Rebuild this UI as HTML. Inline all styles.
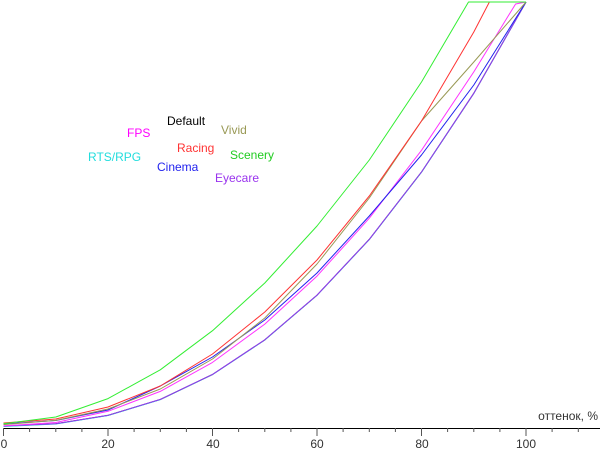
<!DOCTYPE html><html><head><style>body{margin:0;background:#fff}svg{display:block;font-family:"Liberation Sans",Arial,sans-serif;font-size:12px}</style></head><body>
<svg width="600" height="452" xmlns="http://www.w3.org/2000/svg">
<g fill="none" stroke-width="1" stroke-linejoin="round">
<polyline stroke="#000" points="3.5,426.2 55.8,423.8 108,415.4 160.3,399.5 212.5,374.5 264.8,339.9 317,295.2 369.3,239.4 421.5,172.1 473.8,93.3 526,2"/>
<polyline stroke="#22dddd" points="3.5,426.5 55.8,424 108,415.5 160.3,399.6 212.5,374.6 264.8,340 317,295.3 369.3,239.5 421.5,172.2 473.8,93.4 526,2"/>
<polyline stroke="#9933ee" points="3.5,426 55.8,423.7 108,415.3 160.3,399.4 212.5,374.4 264.8,339.8 317,295.1 369.3,239.3 421.5,172 473.8,93.2 526,2"/>
<polyline stroke="#ff33ff" points="3.5,425.9 55.8,422.5 108,411.3 160.3,391.4 212.5,362.4 264.8,324.1 317,276.1 369.3,218.2 421.5,150.3 473.8,71.9 515.6,4 526,2"/>
<polyline stroke="#2222ee" points="3.5,424 55.8,420.5 108,410 160.3,386 212.5,357 264.8,320 317,273 369.3,216 421.5,155 473.8,85 526,2"/>
<polyline stroke="#999955" points="3.5,424.6 55.8,420.4 108,409 160.3,389 212.5,359 264.8,318 317,264 369.3,198 421.5,121 473.8,62 526,2"/>
<polyline stroke="#ff3333" points="3.5,423 55.8,419 108,407 160.3,386 212.5,354 264.8,312 317,260 369.3,196 421.5,121 473.8,32 489.4,2 526,2"/>
<polyline stroke="#33ee33" points="3.5,423.7 55.8,417 108,398.6 160.3,369.8 212.5,330.7 264.8,283 317,226 369.3,160 421.5,82 468.5,2 526,2"/>
</g>
<line x1="3.5" y1="428.5" x2="600" y2="428.5" stroke="#000"/>
<g stroke="#555">
<line x1="3.5" y1="428" x2="3.5" y2="436"/><line x1="29.6" y1="428" x2="29.6" y2="432"/><line x1="55.8" y1="428" x2="55.8" y2="432"/><line x1="81.9" y1="428" x2="81.9" y2="432"/>
<line x1="108" y1="428" x2="108" y2="436"/><line x1="134.1" y1="428" x2="134.1" y2="432"/><line x1="160.3" y1="428" x2="160.3" y2="432"/><line x1="186.4" y1="428" x2="186.4" y2="432"/>
<line x1="212.5" y1="428" x2="212.5" y2="436"/><line x1="238.6" y1="428" x2="238.6" y2="432"/><line x1="264.8" y1="428" x2="264.8" y2="432"/><line x1="290.9" y1="428" x2="290.9" y2="432"/>
<line x1="317" y1="428" x2="317" y2="436"/><line x1="343.1" y1="428" x2="343.1" y2="432"/><line x1="369.3" y1="428" x2="369.3" y2="432"/><line x1="395.4" y1="428" x2="395.4" y2="432"/>
<line x1="421.5" y1="428" x2="421.5" y2="436"/><line x1="447.6" y1="428" x2="447.6" y2="432"/><line x1="473.8" y1="428" x2="473.8" y2="432"/><line x1="499.9" y1="428" x2="499.9" y2="432"/>
<line x1="526" y1="428" x2="526" y2="436"/><line x1="552.1" y1="428" x2="552.1" y2="432"/><line x1="578.3" y1="428" x2="578.3" y2="432"/>
</g>
<g fill="#333" text-anchor="middle">
<text x="4" y="448">0</text><text x="108" y="448">20</text><text x="213" y="448">40</text><text x="317" y="448">60</text><text x="422" y="448">80</text><text x="526" y="448">100</text>
</g>
<text x="598" y="420" text-anchor="end" fill="#333">оттенок, %</text>
<text x="127" y="137" fill="#ff00ff">FPS</text>
<text x="167" y="125" fill="#000">Default</text>
<text x="221" y="134" fill="#999955">Vivid</text>
<text x="177" y="152" fill="#ff3333">Racing</text>
<text x="230" y="159" fill="#22cc22">Scenery</text>
<text x="88" y="161" fill="#22dddd">RTS/RPG</text>
<text x="157" y="171" fill="#2222ee">Cinema</text>
<text x="215" y="182" fill="#9933ee">Eyecare</text>
</svg></body></html>
